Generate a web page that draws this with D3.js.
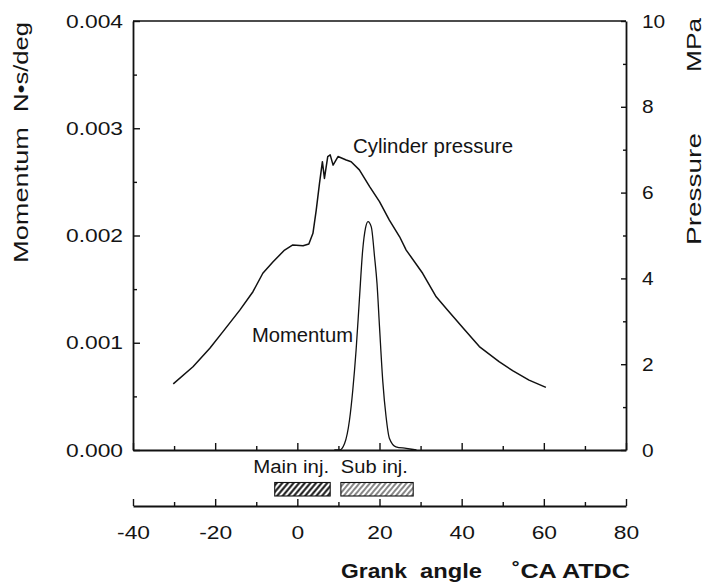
<!DOCTYPE html>
<html><head><meta charset="utf-8">
<script src="https://cdn.jsdelivr.net/npm/d3@7"></script>
<style>
body{margin:0;background:#fff}
text{font-family:"Liberation Sans",Arial,Helvetica,sans-serif;fill:#141414}
</style>
</head><body>
<svg id="c" width="709" height="585"></svg>
<script>
// ---- data ----
const pressureAngle = [-30.2,-25.4,-21.3,-18.1,-14.0,-10.8,-8.4,-5.9,-3.1,-1.1,1.4,2.8,3.8,4.6,5.4,6.1,6.6,7.4,8.0,8.7,9.9,11.9,13.1,15.1,17.6,20.0,22.4,24.9,26.5,30.5,33.8,36.6,40.4,44.3,49.1,52.4,56.4,60.5];
const pressureMPa   = [1.54,1.94,2.37,2.76,3.26,3.69,4.12,4.39,4.66,4.78,4.76,4.80,5.05,5.59,6.22,6.72,6.33,6.84,6.88,6.64,6.84,6.76,6.72,6.53,6.14,5.79,5.36,4.97,4.66,4.12,3.57,3.26,2.84,2.41,2.06,1.85,1.63,1.46];
const momentumAngle = [9,10.3,11.5,12.7,13.5,14.3,15.1,15.9,16.6,17.2,18.0,18.8,19.4,20.0,20.8,21.6,22.4,24.0,26.5,29];
const momentumValue = [0,0,0.00006,0.00028,0.00056,0.00093,0.0014,0.00186,0.00207,0.00213,0.00208,0.0018,0.00155,0.00115,0.00064,0.00031,0.00011,0.00003,0.000015,0];
const injNames = ["Main inj.","Sub inj."];
const injStart = [-5.5, 10.6];
const injEnd   = [8.0, 28.2];
const xMajorTicks = [-40,-20,0,20,40,60,80];
const xMinorTicks = [-30,-10,10,30,50,70];
const yLeftTicks  = [0,0.001,0.002,0.003,0.004];
const yLeftMinor  = [0.0005,0.0015,0.0025,0.0035];
const yRightTicks = [0,2,4,6,8,10];
const yRightMinor = [1,3,5,7,9];

// ---- layout ----
const L = 133, R = 626, T = 21, B = 450, B2 = 506;
const svg = d3.select("#c");
const x  = d3.scaleLinear().domain([-40,80]).range([L,R]);
const yL = d3.scaleLinear().domain([0,0.004]).range([B,T]);
const yR = d3.scaleLinear().domain([0,10]).range([B,T]);

function stretch(sel, k){
  sel.each(function(){
    const w = this.getComputedTextLength();
    d3.select(this).attr("textLength", w*k).attr("lengthAdjust","spacingAndGlyphs");
  });
}
function fit(sel, w){ sel.attr("textLength", w).attr("lengthAdjust","spacingAndGlyphs"); }
function styleAxis(g, sw){
  g.select(".domain").attr("stroke","#111").attr("stroke-width",sw);
  g.selectAll(".tick line").attr("stroke","#111").attr("stroke-width",1.4);
}

// hatch patterns
const defs = svg.append("defs");
[["hMain",2.0,4.3],["hSub",1.0,4.0]].forEach(([id,sw,sp])=>{
  const p = defs.append("pattern").attr("id",id).attr("patternUnits","userSpaceOnUse")
    .attr("width",sp).attr("height",sp).attr("patternTransform","rotate(40)");
  p.append("rect").attr("width",sp).attr("height",sp).attr("fill","#fff");
  p.append("line").attr("x1",sp/2).attr("x2",sp/2).attr("y1",0).attr("y2",sp)
    .attr("stroke","#111").attr("stroke-width",sw);
});

// frame top
svg.append("line").attr("x1",L).attr("x2",R).attr("y1",T).attr("y2",T)
  .attr("stroke","#111").attr("stroke-width",1.6);

// left axis
const gl = svg.append("g").attr("transform",`translate(${L},0)`)
  .call(d3.axisLeft(yL).tickValues(yLeftTicks).tickFormat(d3.format(".3f")).tickSizeInner(-7).tickSizeOuter(0).tickPadding(10));
styleAxis(gl,1.8);
gl.selectAll("text").attr("font-size",19).attr("font-family","Liberation Sans").attr("fill","#141414").call(stretch,1.2);
const glm = svg.append("g").attr("transform",`translate(${L},0)`)
  .call(d3.axisLeft(yL).tickValues(yLeftMinor).tickFormat("").tickSizeInner(-4).tickSizeOuter(0));
glm.select(".domain").remove(); styleAxis(glm,1);

// right axis
const gr = svg.append("g").attr("transform",`translate(${R},0)`)
  .call(d3.axisRight(yR).tickValues(yRightTicks).tickSizeInner(-5).tickSizeOuter(0).tickPadding(16));
styleAxis(gr,1.8);
gr.selectAll("text").attr("font-size",19).attr("font-family","Liberation Sans").attr("fill","#141414").call(stretch,1.1);
const grm = svg.append("g").attr("transform",`translate(${R},0)`)
  .call(d3.axisRight(yR).tickValues(yRightMinor).tickFormat("").tickSizeInner(-3).tickSizeOuter(0));
grm.select(".domain").remove(); styleAxis(grm,1);

// bottom axis of plot (no labels)
const gb = svg.append("g").attr("transform",`translate(0,${B})`)
  .call(d3.axisBottom(x).tickValues(xMajorTicks).tickFormat("").tickSizeInner(-7).tickSizeOuter(0));
styleAxis(gb,1.8);
const gbm = svg.append("g").attr("transform",`translate(0,${B})`)
  .call(d3.axisBottom(x).tickValues(xMinorTicks).tickFormat("").tickSizeInner(-4).tickSizeOuter(0));
gbm.select(".domain").remove(); styleAxis(gbm,1.2);

// lower crank-angle axis
const gb2 = svg.append("g").attr("transform",`translate(0,${B2})`)
  .call(d3.axisBottom(x).tickValues(xMajorTicks).tickFormat(d=>String(d)).tickSizeInner(-7).tickSizeOuter(0).tickPadding(20));
styleAxis(gb2,1.8);
gb2.selectAll("text").attr("font-size",19).attr("font-family","Liberation Sans").attr("fill","#141414").call(stretch,1.2);
const gb2m = svg.append("g").attr("transform",`translate(0,${B2})`)
  .call(d3.axisBottom(x).tickValues(xMinorTicks).tickFormat("").tickSizeInner(-4).tickSizeOuter(0));
gb2m.select(".domain").remove(); styleAxis(gb2m,1.2);

// curves
const pData = pressureAngle.map((a,i)=>[a,pressureMPa[i]]);
const mData = momentumAngle.map((a,i)=>[a,momentumValue[i]]);
svg.append("path").datum(pData).attr("fill","none").attr("stroke","#111").attr("stroke-width",1.5)
  .attr("stroke-linejoin","round")
  .attr("d", d3.line().x(d=>x(d[0])).y(d=>yR(d[1])));
svg.append("path").datum(mData).attr("fill","none").attr("stroke","#111").attr("stroke-width",1.3)
  .attr("d", d3.line().curve(d3.curveMonotoneX).x(d=>x(d[0])).y(d=>yL(d[1])));

// injection bars
const barY = 482.5, barH = 13.5;
injNames.forEach((n,i)=>{
  svg.append("rect").attr("x",x(injStart[i])).attr("y",barY)
    .attr("width",x(injEnd[i])-x(injStart[i])).attr("height",barH)
    .attr("fill",`url(#${i===0?"hMain":"hSub"})`).attr("stroke","#111").attr("stroke-width",1.1);
});
svg.append("text").attr("x",x(injEnd[0])-1).attr("y",473).attr("text-anchor","end")
  .attr("font-size",18).text(injNames[0]).call(fit,76);
svg.append("text").attr("x",x(injStart[1])).attr("y",473).attr("text-anchor","start")
  .attr("font-size",18).text(injNames[1]).call(fit,67);

// curve labels
svg.append("text").attr("x",353).attr("y",153).attr("font-size",20).text("Cylinder pressure").call(fit,160);
svg.append("text").attr("x",252).attr("y",341.5).attr("font-size",20).text("Momentum").call(fit,101);

// axis titles
function vtext(xb, yStart, str, w){
  svg.append("text").attr("transform",`translate(${xb},${yStart}) rotate(-90)`)
    .attr("font-size",20).text(str).call(fit,w);
}
vtext(28, 263, "Momentum", 136);
vtext(28, 112, "N\u2022s/deg", 90);
vtext(701, 245, "Pressure", 112);
vtext(701, 72, "MPa", 54);

// bottom title
function btext(x0, str, w){
  svg.append("text").attr("x",x0).attr("y",578).attr("font-size",21).attr("font-weight","bold")
    .text(str).call(fit,w);
}
btext(341, "Grank", 66);
btext(420, "angle", 62);
btext(512, "\u02DACA ATDC", 118);
</script>
</body></html>
